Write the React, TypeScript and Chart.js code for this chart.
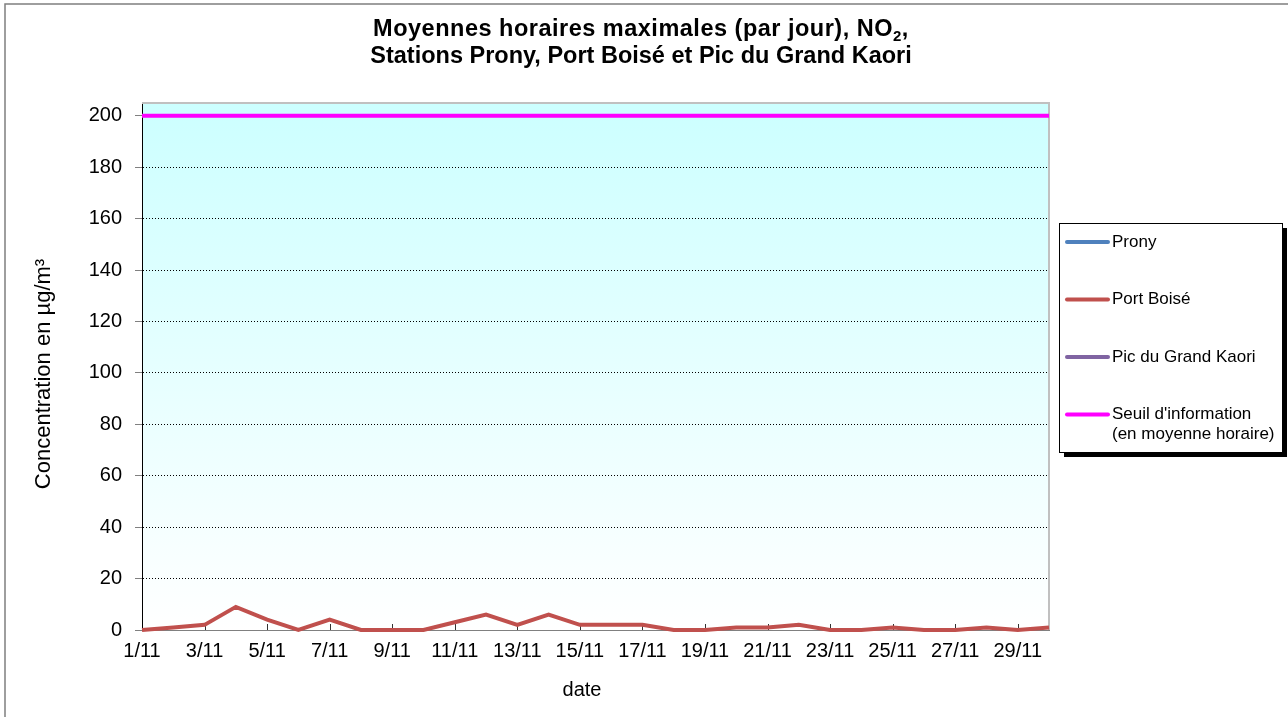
import React, { useEffect, useRef } from "react";
import { Chart, registerables } from "chart.js";

Chart.register(...registerables);

const FONT = "'Liberation Sans', Arial, sans-serif";

const days = [
  "1/11", "2/11", "3/11", "4/11", "5/11", "6/11", "7/11", "8/11", "9/11", "10/11",
  "11/11", "12/11", "13/11", "14/11", "15/11", "16/11", "17/11", "18/11", "19/11", "20/11",
  "21/11", "22/11", "23/11", "24/11", "25/11", "26/11", "27/11", "28/11", "29/11", "30/11",
];

const pronyValues: (number | null)[] = [];
const portBoiseValues = [0, 1, 2, 9, 4, 0, 4, 0, 0, 0, 3, 6, 2, 6, 2, 2, 2, 0, 0, 1, 1, 2, 0, 0, 1, 0, 0, 1, 0, 1];
const picValues: (number | null)[] = [];
const seuilValues = [
  200, 200, 200, 200, 200, 200, 200, 200, 200, 200,
  200, 200, 200, 200, 200, 200, 200, 200, 200, 200,
  200, 200, 200, 200, 200, 200, 200, 200, 200, 200,
];

const seriesLabels = ["Prony", "Port Boisé", "Pic du Grand Kaori", "Seuil d'information\n(en moyenne horaire)"];
const seriesColors = ["#4F81BD", "#C0504D", "#8064A2", "#FF00FF"];

const titleLine1 = "Moyennes horaires maximales (par jour), NO";
const titleSub = "2";
const titleLine1End = ",";
const titleLine2 = "Stations Prony, Port Boisé et Pic du Grand Kaori";
const yTitle = "Concentration en µg/m³";
const xTitle = "date";

const Y_MIN = 0;
const Y_MAX = 205;
const Y_STEP = 20;

const decorPlugin = {
  id: "decor",
  beforeDraw(chart: any) {
    const { ctx, chartArea } = chart;
    const { left, top, right, bottom } = chartArea;
    ctx.save();
    ctx.fillStyle = "#ffffff";
    ctx.fillRect(0, 0, chart.width, chart.height);
    // outer frame
    ctx.strokeStyle = "#7f7f7f";
    ctx.lineWidth = 1.5;
    ctx.strokeRect(5, 4, chart.width + 20, chart.height + 20);
    // plot background gradient
    const g = ctx.createLinearGradient(0, top, 0, bottom);
    g.addColorStop(0, "#CCFFFF");
    g.addColorStop(1, "#FFFFFF");
    ctx.fillStyle = g;
    ctx.fillRect(left, top, right - left, bottom - top);
    ctx.restore();
  },
  beforeDatasetsDraw(chart: any) {
    const { ctx, chartArea, scales } = chart;
    const { left, top, right, bottom } = chartArea;
    ctx.save();
    // plot border top & right
    ctx.strokeStyle = "#c0c0c0";
    ctx.lineWidth = 2;
    ctx.beginPath();
    ctx.moveTo(left, top);
    ctx.lineTo(right, top);
    ctx.lineTo(right, bottom);
    ctx.stroke();
    // inward x tick marks at labelled days
    const x = scales.x;
    ctx.strokeStyle = "#333333";
    ctx.lineWidth = 1;
    ctx.beginPath();
    for (let i = 2; i < days.length; i += 2) {
      const px = Math.round(x.getPixelForValue(i)) + 0.5;
      ctx.moveTo(px, bottom);
      ctx.lineTo(px, bottom - 6);
    }
    ctx.stroke();
    ctx.restore();
  },
  afterDraw(chart: any) {
    const { ctx, data } = chart;
    ctx.save();
    ctx.fillStyle = "#000";
    ctx.textBaseline = "middle";
    // title
    const tf = `bold 23.5px ${FONT}`;
    const sf = `bold 15px ${FONT}`;
    const cx = 641;
    ctx.font = tf;
    (ctx as any).letterSpacing = "0.5px";
    const w1 = ctx.measureText(titleLine1).width;
    const w3 = ctx.measureText(titleLine1End).width;
    ctx.font = sf;
    const w2 = ctx.measureText(titleSub).width;
    const total = w1 + w2 + w3;
    const sx = cx - total / 2;
    ctx.textAlign = "left";
    ctx.font = tf;
    ctx.fillText(titleLine1, sx, 30);
    ctx.font = sf;
    ctx.fillText(titleSub, sx + w1, 37);
    ctx.font = tf;
    ctx.fillText(titleLine1End, sx + w1 + w2, 30);
    (ctx as any).letterSpacing = "0px";
    ctx.textAlign = "center";
    ctx.fillText(titleLine2, cx, 57);

    // axis titles
    ctx.font = `20px ${FONT}`;
    ctx.fillText(xTitle, 582, 690);
    ctx.save();
    ctx.font = `22px ${FONT}`;
    ctx.translate(44, 374);
    ctx.rotate(-Math.PI / 2);
    ctx.fillText(yTitle, 0, 0);
    ctx.restore();

    // legend
    const bx = 1059, by = 223, bw = 223, bh = 229;
    ctx.fillStyle = "#000";
    ctx.fillRect(bx + 5, by + 5, bw, bh);
    ctx.fillStyle = "#fff";
    ctx.fillRect(bx, by, bw, bh);
    ctx.strokeStyle = "#000";
    ctx.lineWidth = 1;
    ctx.strokeRect(bx + 0.5, by + 0.5, bw, bh);
    ctx.font = `17px ${FONT}`;
    ctx.textAlign = "left";
    data.datasets.forEach((ds: any, i: number) => {
      const yy = 242 + i * 57.5;
      ctx.strokeStyle = ds.borderColor;
      ctx.lineWidth = 4;
      ctx.lineCap = "round";
      ctx.beginPath();
      ctx.moveTo(1067, yy);
      ctx.lineTo(1108, yy);
      ctx.stroke();
      ctx.fillStyle = "#000";
      const lines = String(ds.label).split("\n");
      lines.forEach((ln: string, k: number) => ctx.fillText(ln, 1112, yy + k * 20));
    });
    ctx.restore();
  },
};

export default function App() {
  const ref = useRef<HTMLCanvasElement | null>(null);
  useEffect(() => {
    if (!ref.current) return;
    const allValues = [pronyValues, portBoiseValues, picValues, seuilValues];
    const chart = new Chart(ref.current, {
      type: "line",
      data: {
        labels: days,
        datasets: allValues.map((vals, i) => ({
          label: seriesLabels[i],
          data: vals,
          borderColor: seriesColors[i],
          backgroundColor: seriesColors[i],
          borderWidth: 4,
          pointRadius: 0,
          pointHoverRadius: 0,
          tension: 0,
          clip: false as any,
          spanGaps: false,
        })),
      },
      options: {
        animation: false,
        responsive: false,
        devicePixelRatio: 1,
        events: [],
        layout: { padding: { left: 0, top: 103, right: 239, bottom: 0 } },
        plugins: {
          legend: { display: false },
          title: { display: false },
          tooltip: { enabled: false },
        },
        scales: {
          x: {
            type: "category",
            offset: false,
            grid: { display: true, drawOnChartArea: false, drawTicks: false },
            border: { display: true, color: "#808080", width: 1 },
            ticks: {
              autoSkip: false,
              maxRotation: 0,
              minRotation: 0,
              padding: 9,
              color: "#000",
              font: { family: FONT, size: 20 },
              callback: (_v: any, idx: number) => (idx % 2 === 0 ? days[idx] : ""),
            },
            afterFit: (s: any) => {
              s.height = 87;
            },
          },
          y: {
            min: Y_MIN,
            max: Y_MAX,
            grid: {
              color: "#000",
              lineWidth: 1,
              drawTicks: true,
              tickLength: 7,
              tickColor: "#808080",
              tickWidth: 1,
              tickBorderDash: [],
            } as any,
            border: { display: true, color: "#000", width: 1, dash: [1, 2] },
            ticks: {
              stepSize: Y_STEP,
              includeBounds: false,
              padding: 13,
              color: "#000",
              font: { family: FONT, size: 20 },
            },
            afterFit: (s: any) => {
              s.width = 142;
            },
          },
        },
      },
      plugins: [decorPlugin],
    });
    return () => chart.destroy();
  }, []);
  return (
    <div style={{ position: "absolute", left: 0, top: 0, width: 1288, height: 717 }}>
      <canvas ref={ref} width={1288} height={717} style={{ width: "1288px", height: "717px", display: "block" }} />
    </div>
  );
}
